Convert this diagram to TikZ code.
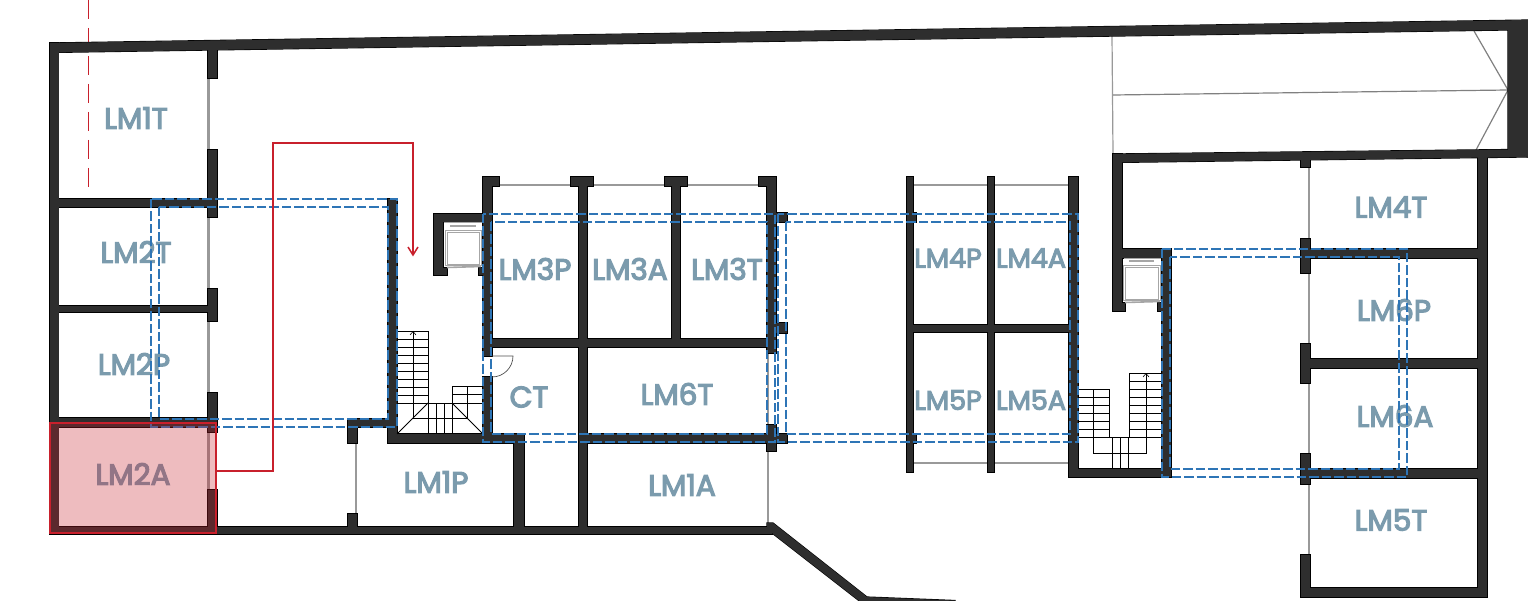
\documentclass[tikz,border=0pt]{standalone}
\usepackage{fontspec}
\setmainfont{Poppins}[FakeBold=4]
\usetikzlibrary{arrows.meta}
\definecolor{wallc}{HTML}{2E2E2E}
\definecolor{labelc}{HTML}{7B9BAD}
\definecolor{bluec}{HTML}{2E75B6}
\definecolor{redc}{HTML}{C8202C}
\definecolor{windowc}{HTML}{999999}
\newcommand\wl[4]{\path[wall] (#1,#2) rectangle (#3,#4);}
\newcommand\wallshapes{%
 % outer top wall, right block, corridor band
 \path[wall] (50,43) -- (1528,20) -- (1528,157) -- (1508,150) -- (1508,30) -- (50,52.5) -- cycle;
 \path[wall] (1113,154) -- (1510,149.5) -- (1528,157) -- (1113,162.5) -- cycle;
 % west block
 \wl{50}{43}{58.5}{534}
 \wl{50}{199}{217}{207}
 \wl{50}{418}{217}{427}
 \wl{50}{306}{217}{312}
 \wl{207.5}{50}{217}{78}
 \wl{207.5}{150}{217}{217}
 \wl{207.5}{289}{217}{321}
 \wl{207.5}{393}{217}{432}
 \wl{207.5}{490}{217}{534}
 \wl{50}{527}{772}{534}
 \path[wall] (767,523) -- (773,523) -- (867,597) -- (955,600.5) -- (955,603) -- (862,603) -- (772,533) -- (767,533) -- cycle;
 % corridor and stair wall
 \wl{388}{199}{397}{443}
 \wl{348}{419}{397}{427}
 \wl{348}{419}{357}{443}
 \wl{348}{514}{357}{527}
 \wl{388}{434}{524}{443}
 \wl{514}{434}{524}{527}
 % lift west
 \wl{434}{214}{443}{275}
 \wl{434}{214}{490}{222}
 \wl{434}{268}{447}{275}
 \wl{479}{268}{484}{275}
 % LM3 block
 \wl{483}{177}{492}{356}
 \wl{483}{377}{492}{443}
 \wl{483}{177}{499}{186}
 \wl{571}{177}{593}{186}
 \wl{579}{177}{587}{527}
 \wl{665}{177}{687}{186}
 \wl{672}{177}{680}{347}
 \wl{759}{177}{776}{186}
 \wl{767}{177}{776}{353}
 \wl{492}{339}{767}{347}
 \wl{587}{434}{787}{443}
 \wl{767}{425}{776}{451}
 \wl{776}{213}{787}{222}
 \wl{776}{323}{787}{333}
 % central block
 \wl{907}{177}{913}{472}
 \wl{907}{213}{916}{222}
 \wl{907}{434}{916}{443}
 \wl{907}{325}{916}{332}
 \wl{988}{177}{994}{472}
 \wl{1069}{177}{1078}{477}
 \wl{907}{325}{1069}{332}
 \wl{1069}{469}{1171}{477}
 \wl{1162}{249}{1171}{477}
 % upper east room, lift east
 \wl{1113}{154}{1122}{311}
 \wl{1113}{249}{1165}{258}
 \wl{1113}{303}{1125}{311}
 \wl{1158}{303}{1162}{311}
 % east block
 \wl{1478}{155}{1487}{597}
 \wl{1301}{588}{1487}{597}
 \wl{1301}{158}{1310}{167}
 \wl{1301}{239}{1310}{273}
 \wl{1301}{344}{1310}{383}
 \wl{1301}{454}{1310}{484}
 \wl{1301}{555}{1310}{597}
 \wl{1310}{249}{1478}{258}
 \wl{1310}{359}{1478}{368}
 \wl{1310}{469}{1478}{478}
}
\tikzset{
 windowline/.style={draw=windowc,line width=2.4pt},
 rampline/.style={draw=gray,line width=1.2pt},
 stairline/.style={draw=black,line width=0.9pt},
 liftline/.style={draw=gray!70,line width=1pt},
 roomlabel/.style={text=labelc,font=\fontsize{29.5}{30}\selectfont,inner sep=0pt},
 roomlabelsmall/.style={text=labelc,font=\fontsize{27}{27.5}\selectfont,inner sep=0pt},
 bluedash/.style={draw=bluec,line width=1.6pt,dash pattern=on 9.5pt off 3pt},
 routeline/.style={draw=redc,line width=1.5pt},
}
\begin{document}
\begin{tikzpicture}[x=1pt,y=-1pt]
\useasboundingbox (0,0) rectangle (1528,601);
\clip (0,0) rectangle (1528,601);
% section line
\draw[redc,line width=1pt,dash pattern=on 19pt off 9pt] (88,0) -- (88,190);
% ramp
\draw[windowc,line width=1.2pt] (1112,36) -- (1113,154);
\draw[rampline] (1113,95) -- (1508,90);
\draw[rampline] (1474,31) -- (1508,90) -- (1476,150);
% windows
\foreach \a/\b in {78/150,217/289,321/393,432/490} \draw[windowline] (208.5,\a) -- (208.5,\b);
\draw[windowline] (356,443) -- (356,514);
\foreach \a/\b in {499/571,593/665,687/759,913/988,994/1069} \draw[windowline] (\a,185) -- (\b,185);
\foreach \a/\b in {913/988,994/1069} \draw[windowline] (\a,463) -- (\b,463);
\draw[windowline] (768,353) -- (768,425);
\draw[windowline] (768,451) -- (768,523);
\foreach \a/\b in {167/239,273/344,383/454,484/555} \draw[windowline] (1309,\a) -- (1309,\b);
% walls: outline first, fill over it, so only the union's edge shows
\begin{scope}[wall/.style={draw=black,line width=1.2pt}]\wallshapes\end{scope}
\begin{scope}[wall/.style={fill=wallc}]\wallshapes\end{scope}
% west stairs
\foreach \y in {331,339,...,403} \draw[stairline] (397,\y) -- (428,\y);
\draw[stairline] (428,331) -- (428,434);
\draw[stairline] (413,331) -- (413,418) -- (467,418) -- (467,386);
\foreach \x in {436,444,452} \draw[stairline] (\x,403) -- (\x,434);
\draw[stairline] (428,403) -- (452,403);
\draw[stairline] (452,386) -- (452,403);
\foreach \y in {386,394,403} \draw[stairline] (452,\y) -- (483,\y);
\draw[stairline] (428,403) -- (397,434);
\draw[stairline] (452,403) -- (483,434);
\draw[stairline,line width=0.6pt] (410,335) -- (413,331.5) -- (416,335);
% east stairs
\foreach \y in {373,381,...,437} \draw[stairline] (1129,\y) -- (1162,\y);
\foreach \y in {389,397,...,437} \draw[stairline] (1078,\y) -- (1109,\y);
\draw[stairline] (1129,373) -- (1129,437);
\draw[stairline] (1109,389) -- (1109,437);
\draw[stairline] (1109,437) -- (1129,437);
\draw[stairline] (1146,373) -- (1146,453) -- (1093,453) -- (1093,389);
\foreach \x in {1112,1120,1128} \draw[stairline] (\x,437) -- (\x,469);
\draw[stairline,line width=0.6pt] (1143,377) -- (1146,373.5) -- (1149,377);
% lifts
\draw[liftline] (444,223) -- (482,223);
\draw[liftline,line width=1.4pt] (450,226) -- (476,226);
\draw[liftline] (445,231) rectangle (481,266);
\draw[liftline] (447,233) rectangle (479,265);
\draw[liftline,line width=1.6pt] (447,267.5) -- (481,266.5);
\draw[liftline] (1124,259) -- (1161,259);
\draw[liftline,line width=1.4pt] (1129,261) -- (1154,261);
\draw[liftline] (1123,266) rectangle (1160,301);
\draw[liftline] (1125,268) rectangle (1158,300);
\draw[liftline,line width=1.6pt] (1125,302.5) -- (1160,301.5);
% door
\draw[black!70,line width=0.7pt] (492,356) -- (513,356) arc[start angle=0,end angle=90,radius=21];
% labels
\node[roomlabel] (lmat) at (136,118) {LM1T};
\node[roomlabel] (lmbt) at (136,252) {LM2T};
\node[roomlabel] (lmbp) at (134,364) {LM2P};
\node[roomlabel] (lmba) at (133,474) {LM2A};
\node[roomlabel] (lmap) at (436,482) {LM1P};
\node[roomlabel] (lmcp) at (535,269) {LM3P};
\node[roomlabel] (lmca) at (630,269) {LM3A};
\node[roomlabel] (lmct) at (727,269) {LM3T};
\node[roomlabel] (ct) at (529,397) {CT};
\node[roomlabel] (lmft) at (677,394) {LM6T};
\node[roomlabel] (lmaa) at (682,485) {LM1A};
\node[roomlabelsmall] (lmdp) at (948,258) {LM4P};
\node[roomlabelsmall] (lmda) at (1031,258) {LM4A};
\node[roomlabelsmall] (lmep) at (948,400) {LM5P};
\node[roomlabelsmall] (lmea) at (1031,400) {LM5A};
\node[roomlabel] (lmdt) at (1391,207) {LM4T};
\node[roomlabel] (lmfp) at (1394,310) {LM6P};
\node[roomlabel] (lmfa) at (1395,416) {LM6A};
\node[roomlabel] (lmet) at (1391,520) {LM5T};
% dashed outlines
\foreach \xa/\ya/\xb/\yb in {151/199/397/427,159/207/388/419,483/214/775/442,491/222/767/434,778/214/1078/442,786/222/1070/434,1162/249/1407/477,1170/257/1399/469}
  \draw[bluedash] (\xa,\ya) rectangle (\xb,\yb);
% highlighted unit and route
\fill[redc,opacity=0.3] (50,423) rectangle (216,533);
\draw[redc,line width=2pt] (50,423) rectangle (216,533);
\draw[routeline] (217,471) -- (273,471) -- (273,143) -- (413,143) -- (413,255);
\draw[routeline] (408,247) -- (413,255) -- (418,247);
\end{tikzpicture}
\end{document}
